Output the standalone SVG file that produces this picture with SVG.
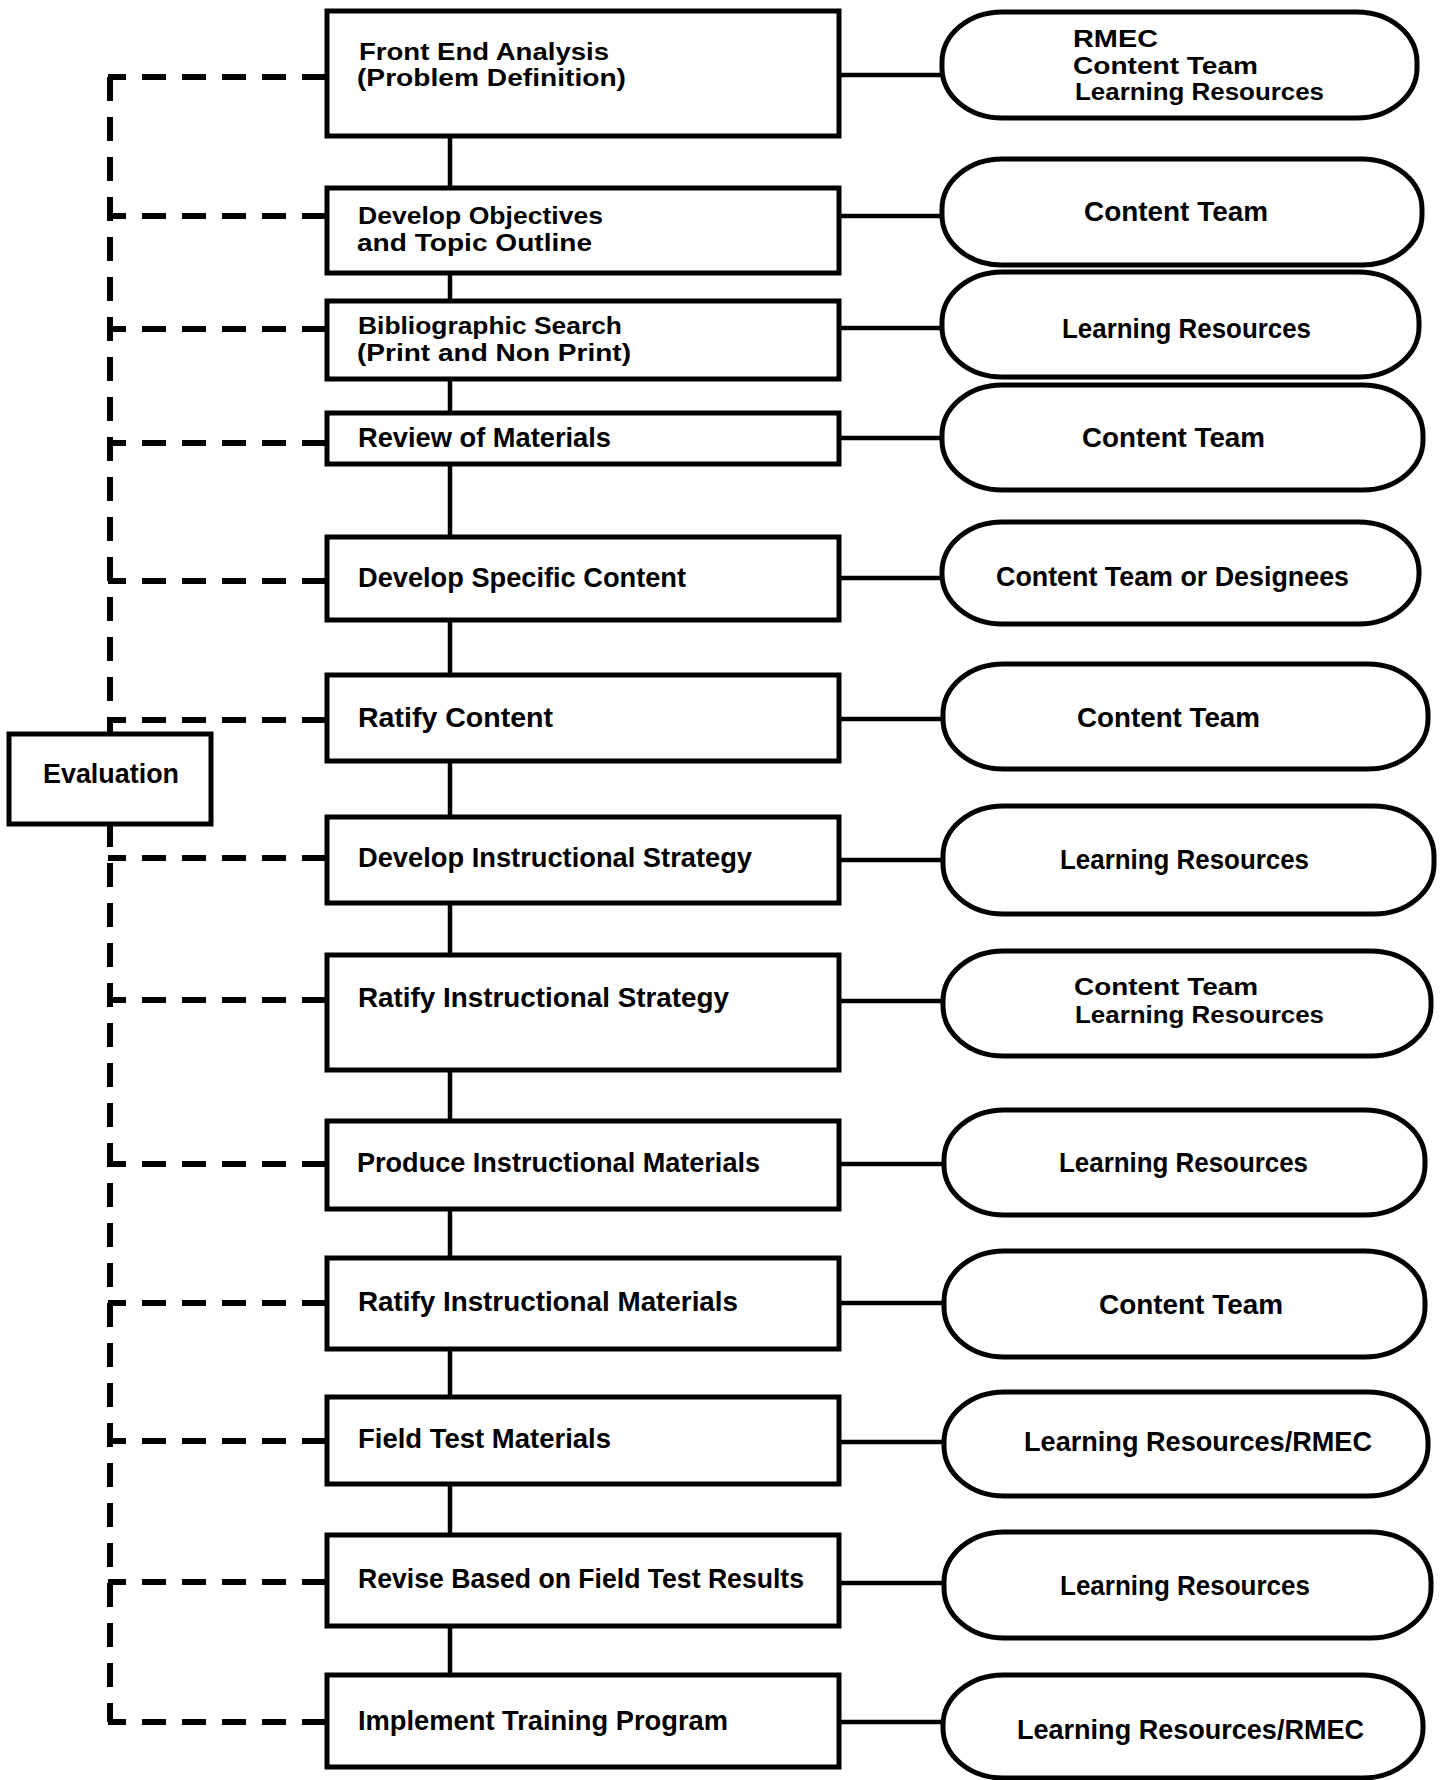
<svg xmlns="http://www.w3.org/2000/svg" width="1442" height="1780" viewBox="0 0 1442 1780">
<style>
.box{fill:#fff;stroke:#000;stroke-width:5}
.pill{fill:#fff;stroke:#000;stroke-width:5}
.ln{stroke:#000;stroke-width:4.5;fill:none}
.dash{stroke:#000;stroke-width:6;fill:none;stroke-dasharray:24 16}
text{font-family:"Liberation Sans",Arial,sans-serif;font-weight:bold;font-size:28px;fill:#000}
text.m{font-size:23px}
</style>
<rect width="1442" height="1780" fill="#fff"/>
<g id="connectors">
<line class="ln" x1="450" y1="136" x2="450" y2="1675"/>
<line class="ln" x1="839" y1="75" x2="942" y2="75"/>
<line class="ln" x1="839" y1="216" x2="942" y2="216"/>
<line class="ln" x1="839" y1="328" x2="942" y2="328"/>
<line class="ln" x1="839" y1="438" x2="942" y2="438"/>
<line class="ln" x1="839" y1="578" x2="942" y2="578"/>
<line class="ln" x1="839" y1="719" x2="943" y2="719"/>
<line class="ln" x1="839" y1="860" x2="943" y2="860"/>
<line class="ln" x1="839" y1="1001" x2="943" y2="1001"/>
<line class="ln" x1="839" y1="1164" x2="944" y2="1164"/>
<line class="ln" x1="839" y1="1303" x2="944" y2="1303"/>
<line class="ln" x1="839" y1="1442" x2="944" y2="1442"/>
<line class="ln" x1="839" y1="1583" x2="944" y2="1583"/>
<line class="ln" x1="839" y1="1722" x2="943" y2="1722"/>
<path class="dash" d="M110 77 V735"/>
<path class="dash" d="M110 823 V1722"/>
<path class="dash" d="M326 77 H108"/>
<path class="dash" d="M326 216 H108"/>
<path class="dash" d="M326 329 H108"/>
<path class="dash" d="M326 443 H108"/>
<path class="dash" d="M326 581 H108"/>
<path class="dash" d="M326 720 H108"/>
<path class="dash" d="M326 858 H108"/>
<path class="dash" d="M326 1000 H108"/>
<path class="dash" d="M326 1164 H108"/>
<path class="dash" d="M326 1303 H108"/>
<path class="dash" d="M326 1441 H108"/>
<path class="dash" d="M326 1582 H108"/>
<path class="dash" d="M326 1722 H108"/>
</g>
<g id="evaluation">
<rect class="box" x="9" y="734" width="202" height="90"/>
<text x="43" y="783" textLength="136" lengthAdjust="spacingAndGlyphs">Evaluation</text>
</g>
<g id="step1">
<rect class="box" x="327" y="11" width="512" height="125"/>
<text class="m" x="359" y="60" textLength="250" lengthAdjust="spacingAndGlyphs">Front End Analysis</text>
<text class="m" x="357" y="86" textLength="269" lengthAdjust="spacingAndGlyphs">(Problem Definition)</text>
</g>
<g id="step2">
<rect class="box" x="327" y="188" width="512" height="85"/>
<text class="m" x="358" y="224" textLength="245" lengthAdjust="spacingAndGlyphs">Develop Objectives</text>
<text class="m" x="357" y="251" textLength="235" lengthAdjust="spacingAndGlyphs">and Topic Outline</text>
</g>
<g id="step3">
<rect class="box" x="327" y="301" width="512" height="78"/>
<text class="m" x="358" y="334" textLength="264" lengthAdjust="spacingAndGlyphs">Bibliographic Search</text>
<text class="m" x="357" y="361" textLength="274" lengthAdjust="spacingAndGlyphs">(Print and Non Print)</text>
</g>
<g id="step4">
<rect class="box" x="327" y="413" width="512" height="51"/>
<text x="358" y="447" textLength="253" lengthAdjust="spacingAndGlyphs">Review of Materials</text>
</g>
<g id="step5">
<rect class="box" x="327" y="537" width="512" height="83"/>
<text x="358" y="587" textLength="328" lengthAdjust="spacingAndGlyphs">Develop Specific Content</text>
</g>
<g id="step6">
<rect class="box" x="327" y="675" width="512" height="86"/>
<text x="358" y="727" textLength="195" lengthAdjust="spacingAndGlyphs">Ratify Content</text>
</g>
<g id="step7">
<rect class="box" x="327" y="817" width="512" height="86"/>
<text x="358" y="867" textLength="394" lengthAdjust="spacingAndGlyphs">Develop Instructional Strategy</text>
</g>
<g id="step8">
<rect class="box" x="327" y="955" width="512" height="115"/>
<text x="358" y="1007" textLength="371" lengthAdjust="spacingAndGlyphs">Ratify Instructional Strategy</text>
</g>
<g id="step9">
<rect class="box" x="327" y="1121" width="512" height="88"/>
<text x="357" y="1172" textLength="403" lengthAdjust="spacingAndGlyphs">Produce Instructional Materials</text>
</g>
<g id="step10">
<rect class="box" x="327" y="1258" width="512" height="91"/>
<text x="358" y="1311" textLength="380" lengthAdjust="spacingAndGlyphs">Ratify Instructional Materials</text>
</g>
<g id="step11">
<rect class="box" x="327" y="1397" width="512" height="87"/>
<text x="358" y="1448" textLength="253" lengthAdjust="spacingAndGlyphs">Field Test Materials</text>
</g>
<g id="step12">
<rect class="box" x="327" y="1535" width="512" height="91"/>
<text x="358" y="1588" textLength="446" lengthAdjust="spacingAndGlyphs">Revise Based on Field Test Results</text>
</g>
<g id="step13">
<rect class="box" x="327" y="1675" width="512" height="92"/>
<text x="358" y="1730" textLength="370" lengthAdjust="spacingAndGlyphs">Implement Training Program</text>
</g>
<g id="who1">
<rect class="pill" x="942" y="12" width="475" height="106" rx="60" ry="50"/>
<text class="m" x="1073" y="47" textLength="85" lengthAdjust="spacingAndGlyphs">RMEC</text>
<text class="m" x="1073" y="74" textLength="185" lengthAdjust="spacingAndGlyphs">Content Team</text>
<text class="m" x="1075" y="100" textLength="249" lengthAdjust="spacingAndGlyphs">Learning Resources</text>
</g>
<g id="who2">
<rect class="pill" x="942" y="159" width="480" height="106" rx="60" ry="50"/>
<text x="1084" y="221" textLength="184" lengthAdjust="spacingAndGlyphs">Content Team</text>
</g>
<g id="who3">
<rect class="pill" x="942" y="272" width="477" height="105" rx="60" ry="50"/>
<text x="1062" y="338" textLength="249" lengthAdjust="spacingAndGlyphs">Learning Resources</text>
</g>
<g id="who4">
<rect class="pill" x="942" y="385" width="481" height="105" rx="60" ry="50"/>
<text x="1082" y="447" textLength="183" lengthAdjust="spacingAndGlyphs">Content Team</text>
</g>
<g id="who5">
<rect class="pill" x="942" y="522" width="477" height="102" rx="60" ry="50"/>
<text x="996" y="586" textLength="353" lengthAdjust="spacingAndGlyphs">Content Team or Designees</text>
</g>
<g id="who6">
<rect class="pill" x="943" y="664" width="485" height="105" rx="60" ry="50"/>
<text x="1077" y="727" textLength="183" lengthAdjust="spacingAndGlyphs">Content Team</text>
</g>
<g id="who7">
<rect class="pill" x="943" y="806" width="491" height="108" rx="60" ry="50"/>
<text x="1060" y="869" textLength="249" lengthAdjust="spacingAndGlyphs">Learning Resources</text>
</g>
<g id="who8">
<rect class="pill" x="943" y="951" width="488" height="105" rx="60" ry="50"/>
<text class="m" x="1074" y="995" textLength="184" lengthAdjust="spacingAndGlyphs">Content Team</text>
<text class="m" x="1075" y="1023" textLength="249" lengthAdjust="spacingAndGlyphs">Learning Resources</text>
</g>
<g id="who9">
<rect class="pill" x="944" y="1110" width="481" height="105" rx="60" ry="50"/>
<text x="1059" y="1172" textLength="249" lengthAdjust="spacingAndGlyphs">Learning Resources</text>
</g>
<g id="who10">
<rect class="pill" x="944" y="1251" width="481" height="106" rx="60" ry="50"/>
<text x="1099" y="1314" textLength="184" lengthAdjust="spacingAndGlyphs">Content Team</text>
</g>
<g id="who11">
<rect class="pill" x="944" y="1392" width="484" height="104" rx="60" ry="50"/>
<text x="1024" y="1451" textLength="348" lengthAdjust="spacingAndGlyphs">Learning Resources/RMEC</text>
</g>
<g id="who12">
<rect class="pill" x="944" y="1532" width="487" height="106" rx="60" ry="50"/>
<text x="1060" y="1595" textLength="250" lengthAdjust="spacingAndGlyphs">Learning Resources</text>
</g>
<g id="who13">
<rect class="pill" x="943" y="1675" width="480" height="103" rx="60" ry="50"/>
<text x="1017" y="1739" textLength="347" lengthAdjust="spacingAndGlyphs">Learning Resources/RMEC</text>
</g>
</svg>
